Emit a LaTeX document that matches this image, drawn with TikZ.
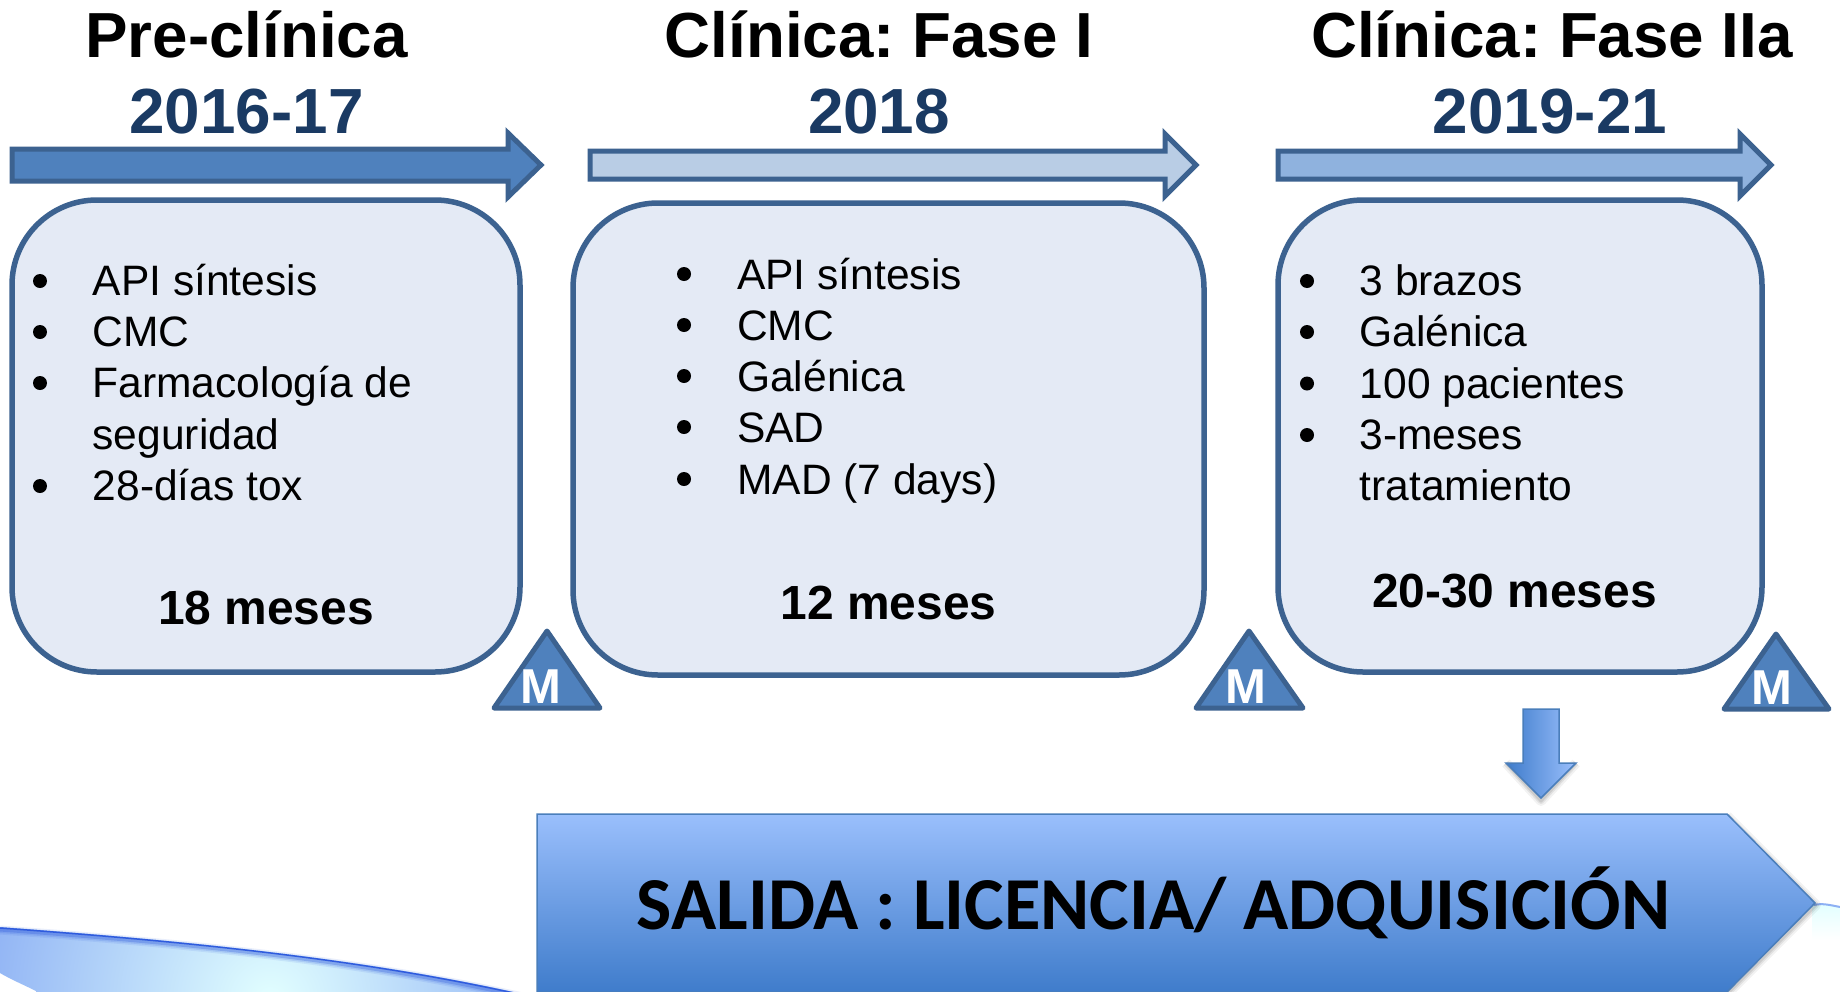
\documentclass[tikz,border=0pt]{standalone}
\usepackage{fontspec}
\setmainfont{Liberation Sans}
\newfontfamily\calibrifont{Carlito}
\frenchspacing
\definecolor{boxfill}{HTML}{E4EAF5}
\definecolor{darkline}{HTML}{3C6290}
\definecolor{midblue}{HTML}{4F81BD}
\definecolor{lightblue}{HTML}{B9CDE5}
\definecolor{paleblue}{HTML}{8FB2DE}
\definecolor{datecolor}{HTML}{1A3A63}
\definecolor{gradlight}{HTML}{9ABFFC}
\definecolor{graddark}{HTML}{3F7CCB}
\definecolor{gradline}{HTML}{4A7EBB}
\definecolor{swooshedge}{HTML}{2F5BDD}
\definecolor{swooshin}{HTML}{E2FFFF}
\definecolor{swooshout}{HTML}{8DB0F4}
\tikzset{
  x=1pt,y=-1pt,
  phase/.style={draw=darkline,line width=5.5pt,rounded corners=85pt,fill=boxfill},
  tl/.style={draw=darkline,line width=5pt,miter limit=10},
  mile/.style={draw=darkline,line width=5pt,line join=round,fill=midblue},
  head/.style={font=\fontsize{63.7}{70}\selectfont\bfseries,text=black,anchor=base,inner sep=0pt},
  date/.style={font=\fontsize{63.8}{70}\selectfont\bfseries,text=datecolor,anchor=base,inner sep=0pt},
  item/.style={font=\fontsize{42.55}{50}\selectfont,text=black,anchor=base west,inner sep=0pt},
  bul/.style={circle,fill=black,inner sep=0pt,minimum size=14pt},
  dur/.style={font=\fontsize{47.9}{52}\selectfont\bfseries,text=black,anchor=base,inner sep=0pt},
  mlet/.style={font=\fontsize{49}{50}\selectfont\bfseries,text=white,anchor=base,inner sep=0pt},
}
\begin{document}
\begin{tikzpicture}
\useasboundingbox (0,0) rectangle (1840,991);
\clip (0,0) rectangle (1840,991);
\fill[white] (0,0) rectangle (1840,991);

% swooshes behind the exit arrow
\begin{scope}
  \clip (0,927) .. controls (180,940) and (370,958) .. (540,998) -- (36,998) -- (36,991) .. controls (24,985) and (10,979) .. (0,973) -- cycle;
  \shade[inner color=swooshin,outer color=swooshout,shading=radial] (-30,700) rectangle (570,1300);
\end{scope}
\foreach \w/\o in {9/.10,6/.16,3/.3}{
  \draw[swooshedge,opacity=\o,line width=\w pt] (0,930) .. controls (180,943) and (370,961) .. (540,1001);
}
\draw[swooshedge,line width=1.5pt] (0,928) .. controls (180,941) and (370,959) .. (540,999);
\shade[top color=swooshin,bottom color=white] (1812,905) .. controls (1820,903) and (1830,905) .. (1840,908) -- (1840,940) -- (1812,940) -- cycle;
\draw[swooshout,line width=2pt] (1814,905) .. controls (1822,903) and (1830,905) .. (1840,907);

% timeline arrows
\path[tl,fill=midblue] (12,149) -- (508,149) -- (508,133) -- (541,165) -- (508,197) -- (508,181) -- (12,181) -- cycle;
\path[tl,fill=lightblue] (590,151) -- (1165,151) -- (1165,134) -- (1196,165) -- (1165,196) -- (1165,179) -- (590,179) -- cycle;
\path[tl,fill=paleblue] (1278,151) -- (1740,151) -- (1740,134) -- (1771,165) -- (1740,196) -- (1740,179) -- (1278,179) -- cycle;

% phase boxes
\path[phase] (12,200) rectangle (520,672);
\path[phase] (573,203) rectangle (1204,675);
\path[phase] (1278,200) rectangle (1762,672);

% milestone triangles
\path[mile] (547,631) -- (494,708) -- (600,708) -- cycle;
\path[mile] (1249,631) -- (1196,708) -- (1303,708) -- cycle;
\path[mile] (1776,634) -- (1724,709) -- (1829,709) -- cycle;
\node[mlet] (m1) at (541,703) {M};
\node[mlet] (m2) at (1245.5,703) {M};
\node[mlet] (m3) at (1772,704) {M};

% headings
\node[head] (h1) at (246.5,57) {Pre-clínica};
\node[date] (d1) at (246.5,133) {2016-17};
\node[head] (h2) at (879,57) {Clínica: Fase I};
\node[date] (d2) at (879,133) {2018};
\node[head] (h3) at (1552,57) {Clínica: Fase IIa};
\node[date] (d3) at (1550,133) {2019-21};

% box 1
\node[bul] (b11) at (40,281) {};
\node[bul] (b12) at (40,332) {};
\node[bul] (b13) at (40,383) {};
\node[bul] (b14) at (40,486) {};
\node[item] (t11) at (92.5,295) {API síntesis};
\node[item] (t12) at (92.5,346.3) {CMC};
\node[item] (t13) at (92.5,397.6) {Farmacología de};
\node[item] (t13b) at (92.5,449) {seguridad};
\node[item] (t14) at (92.5,500.3) {28-días tox};
\node[dur] (z1) at (266,624) {18 meses};

% box 2
\node[bul] (b21) at (684,274) {};
\node[bul] (b22) at (684,325) {};
\node[bul] (b23) at (684,376) {};
\node[bul] (b24) at (684,427) {};
\node[bul] (b25) at (684,479) {};
\node[item] (t21) at (737,289) {API síntesis};
\node[item] (t22) at (737,340) {CMC};
\node[item] (t23) at (737,391.3) {Galénica};
\node[item] (t24) at (737,442.6) {SAD};
\node[item] (t25) at (737,494) {MAD (7 days)};
\node[dur] (z2) at (888.5,619) {12 meses};

% box 3
\node[bul] (b31) at (1307,281) {};
\node[bul] (b32) at (1307,332) {};
\node[bul] (b33) at (1307,383.5) {};
\node[bul] (b34) at (1307,435) {};
\node[item] (t31) at (1359.5,295) {3 brazos};
\node[item] (t32) at (1359.5,346.3) {Galénica};
\node[item] (t33) at (1359.5,398) {100 pacientes};
\node[item] (t34) at (1359.5,449) {3-meses};
\node[item] (t34b) at (1359.5,500.3) {tratamiento};
\node[dur] (z3) at (1514.5,607) {20-30 meses};

% soft shadows
\foreach \w/\o in {10/.05,6/.07,3/.09}{
  \draw[black,opacity=\o,line width=\w pt,line join=round] (1506,763) -- (1541,801) -- (1576,763);
  \draw[black,opacity=\o,line width=\w pt,line join=round] (1727,816) -- (1816,905) -- (1727,994);
}
% down arrow
\shade[left color=graddark,right color=gradlight,draw=gradline,line width=1.5pt]
  (1523,709) -- (1559,709) -- (1559,763) -- (1576,763) -- (1541,798) -- (1506,763) -- (1523,763) -- cycle;

% exit pentagon
\shade[top color=gradlight,bottom color=graddark,draw=gradline,line width=1.5pt]
  (537,814) -- (1727,814) -- (1815,903) -- (1727,992) -- (537,992) -- cycle;
\node[font=\calibrifont\fontsize{74.7}{80}\selectfont\bfseries,text=black,anchor=base,inner sep=0pt] (exit) at (1153.5,929) {SALIDA : LICENCIA/ ADQUISICIÓN};
\end{tikzpicture}
\end{document}
